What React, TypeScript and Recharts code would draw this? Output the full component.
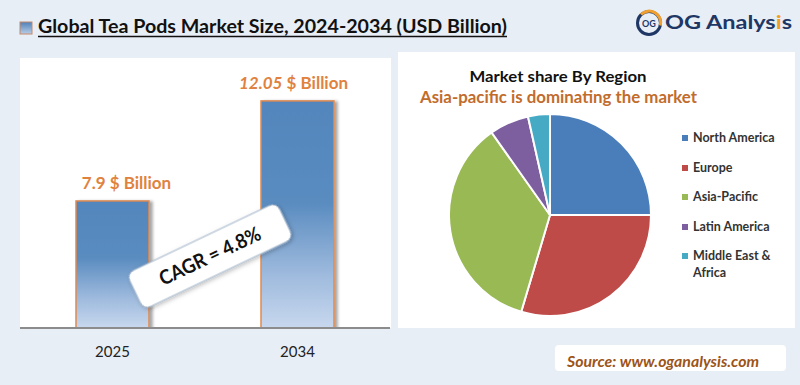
import React from "react";
import {
  BarChart,
  Bar,
  XAxis,
  YAxis,
  LabelList,
  PieChart,
  Pie,
  Cell,
  Legend,
} from "recharts";

const years = ["2025", "2034"];
const marketSize = [7.9, 12.05];
const cagr = "4.8%";

const regions = [
  "North America",
  "Europe",
  "Asia-Pacific",
  "Latin America",
  "Middle East & Africa",
];
const regionShare = [25, 29.6, 35.6, 6.3, 3.5];

const barData = years.map((year, i) => ({ year, value: marketSize[i] }));
const pieData = regions.map((name, i) => ({ name, value: regionShare[i] }));

const regionColors = ["#4a7ebb", "#be4b48", "#98b954", "#7d5fa0", "#46aac5"];
const labelShift = [14, -4];
const FONT = "Lato, 'Open Sans', sans-serif";

const BarShape = (props: any) => {
  const { x, y, width, height } = props;
  return (
    <g>
      <rect
        x={x}
        y={y}
        width={width}
        height={height}
        fill="url(#barFill)"
        stroke="#df8a50"
        strokeWidth={1.5}
        filter="url(#barShadow)"
      />
    </g>
  );
};

const BarLabel = (props: any) => {
  const { x, y, width, value, index } = props;
  const cx = x + width / 2 + labelShift[index];
  return (
    <text
      x={cx}
      y={y - 12}
      textAnchor="middle"
      fill="#e0823e"
      fontSize={17}
      fontWeight={700}
      fontFamily={FONT}
    >
      <tspan fontStyle={index === 1 ? "italic" : "normal"}>{value}</tspan>
      <tspan> $ Billion</tspan>
    </text>
  );
};

const RegionLegend = ({ payload }: any) => {
  // keep the legend in the same order as the slices
  const items = [...(payload || [])].sort(
    (a: any, b: any) => regions.indexOf(a.value) - regions.indexOf(b.value)
  );
  return (
    <ul style={{ listStyle: "none", margin: 0, padding: 0 }}>
      {items.map((entry: any, index: number) => (
        <li
          key={`item-${index}`}
          style={{
            display: "flex",
            alignItems: "flex-start",
            marginBottom: 12.5,
            fontFamily: FONT,
            fontSize: 12.5,
            fontWeight: 700,
            color: "#333",
            lineHeight: "17px",
            width: 100,
          }}
        >
          <span
            style={{
              width: 6,
              height: 6,
              background: entry.color,
              marginTop: 6,
              marginRight: 5,
              flexShrink: 0,
            }}
          />
          <span>{entry.value}</span>
        </li>
      ))}
    </ul>
  );
};

const App = () => {
  return (
    <div
      style={{
        position: "absolute",
        left: 0,
        top: 0,
        width: 800,
        height: 385,
        background: "#e8eef6",
        fontFamily: FONT,
        overflow: "hidden",
      }}
    >
      {/* header */}
      <svg width={800} height={50} style={{ position: "absolute", left: 0, top: 0 }}>
        <defs>
          <linearGradient id="iconFill" x1="0" y1="0" x2="0" y2="1">
            <stop offset="0%" stopColor="#4f7fb8" />
            <stop offset="100%" stopColor="#b9cde6" />
          </linearGradient>
        </defs>
        <rect x={20} y={22} width={12} height={12} fill="url(#iconFill)" stroke="#c48a6a" strokeWidth={1} />
        <text
          x={38}
          y={33}
          fontSize={18}
          fontWeight={700}
          fill="#111"
          fontFamily={FONT}
          textLength={469}
          lengthAdjust="spacingAndGlyphs"
        >
          Global Tea Pods Market Size, 2024-2034 (USD Billion)
        </text>
        <line x1={38} x2={507} y1={36.5} y2={36.5} stroke="#111" strokeWidth={1.4} />

        {/* logo */}
        <circle cx={649} cy={23} r={11.5} fill="none" stroke="#1e3765" strokeWidth={3} />
        <path d="M 641 14.5 A 11.5 11.5 0 0 1 660.3 25.5" fill="none" stroke="#f0a030" strokeWidth={3} />
        <text x={649} y={26.5} textAnchor="middle" fontSize={9} fontWeight={700} fill="#1e3765" fontFamily={FONT}>
          OG
        </text>
        <text
          x={665}
          y={29}
          fontSize={19}
          fontWeight={700}
          fill="#1e3765"
          fontFamily={FONT}
          textLength={127}
          lengthAdjust="spacingAndGlyphs"
        >
          OG Analys<tspan fill="#f0a020">i</tspan>s
        </text>
      </svg>

      {/* left panel */}
      <div style={{ position: "absolute", left: 20, top: 58, width: 371, height: 270, background: "#fff" }} />
      <div style={{ position: "absolute", left: 20, top: 58 }}>
        <BarChart
          width={370}
          height={310}
          data={barData}
          margin={{ top: 0, right: 0, left: 0, bottom: 0 }}
        >
          <defs>
            <linearGradient id="barFill" x1="0" y1="0" x2="0" y2="1">
              <stop offset="0%" stopColor="#5286bc" />
              <stop offset="45%" stopColor="#5a8cc0" />
              <stop offset="75%" stopColor="#9bb8dc" />
              <stop offset="100%" stopColor="#c8d8ee" />
            </linearGradient>
            <filter id="barShadow" x="-20%" y="-10%" width="140%" height="120%">
              <feDropShadow dx={3} dy={1} stdDeviation={1.5} floodColor="#000" floodOpacity={0.35} />
            </filter>
          </defs>
          <XAxis
            dataKey="year"
            height={40}
            axisLine={{ stroke: "#8c8c8c", strokeWidth: 2 }}
            tickLine={false}
            tick={{ fontSize: 15, fill: "#222", fontFamily: FONT }}
            tickMargin={12}
          />
          <YAxis hide domain={[2.63, 13.83]} allowDataOverflow />
          <Bar dataKey="value" barSize={73} shape={<BarShape />} isAnimationActive={false}>
            <LabelList dataKey="value" content={<BarLabel />} />
          </Bar>
        </BarChart>
      </div>

      {/* CAGR box */}
      <svg width={400} height={385} style={{ position: "absolute", left: 0, top: 0, pointerEvents: "none" }}>
        <defs>
          <filter id="boxShadow" x="-20%" y="-40%" width="140%" height="180%">
            <feDropShadow dx={1} dy={2} stdDeviation={2} floodColor="#000" floodOpacity={0.25} />
          </filter>
        </defs>
        <g transform="translate(210 256) rotate(-25.5)">
          <rect x={-83} y={-20} width={166} height={40} rx={8} fill="#fff" stroke="#9fb3c8" strokeWidth={1} filter="url(#boxShadow)" />
          <text
            x={0}
            y={7}
            textAnchor="middle"
            fontSize={20}
            fontWeight={700}
            fill="#111"
            fontFamily={FONT}
            textLength={110}
            lengthAdjust="spacingAndGlyphs"
          >
            CAGR = {cagr}
          </text>
        </g>
      </svg>

      {/* right panel */}
      <div style={{ position: "absolute", left: 398, top: 52, width: 397, height: 276, background: "#fff" }} />
      <svg width={400} height={60} style={{ position: "absolute", left: 398, top: 52 }}>
        <text
          x={160}
          y={30}
          textAnchor="middle"
          fontSize={16}
          fontWeight={700}
          fill="#111"
          fontFamily={FONT}
          textLength={177}
          lengthAdjust="spacingAndGlyphs"
        >
          Market share By Region
        </text>
        <text
          x={160.5}
          y={51}
          textAnchor="middle"
          fontSize={17.5}
          fontWeight={700}
          fill="#c26c2c"
          fontFamily={FONT}
          textLength={277}
          lengthAdjust="spacingAndGlyphs"
        >
          Asia-pacific is dominating the market
        </text>
      </svg>
      <div style={{ position: "absolute", left: 398, top: 52 }}>
        <PieChart width={397} height={276} margin={{ top: 0, right: 0, left: 0, bottom: 0 }}>
          <Pie
            data={pieData}
            dataKey="value"
            nameKey="name"
            cx={152}
            cy={163}
            outerRadius={101}
            startAngle={90}
            endAngle={-270}
            stroke="#fff"
            strokeWidth={2}
            isAnimationActive={false}
          >
            {pieData.map((_, i) => (
              <Cell key={`cell-${i}`} fill={regionColors[i]} />
            ))}
          </Pie>
          <Legend
            content={<RegionLegend />}
            layout="vertical"
            wrapperStyle={{ position: "absolute", left: 284, top: 77, width: 110 }}
          />
        </PieChart>
      </div>

      {/* source */}
      <div
        style={{
          position: "absolute",
          left: 555,
          top: 345,
          width: 231,
          height: 26,
          background: "#fff",
          borderRadius: 4,
        }}
      />
      <svg width={260} height={40} style={{ position: "absolute", left: 540, top: 340 }}>
        <text
          x={27}
          y={27}
          fontSize={15}
          fontWeight={700}
          fontStyle="italic"
          fill="#9c5418"
          fontFamily={FONT}
          textLength={192}
          lengthAdjust="spacingAndGlyphs"
        >
          Source: www.oganalysis.com
        </text>
      </svg>
    </div>
  );
};

export default App;
